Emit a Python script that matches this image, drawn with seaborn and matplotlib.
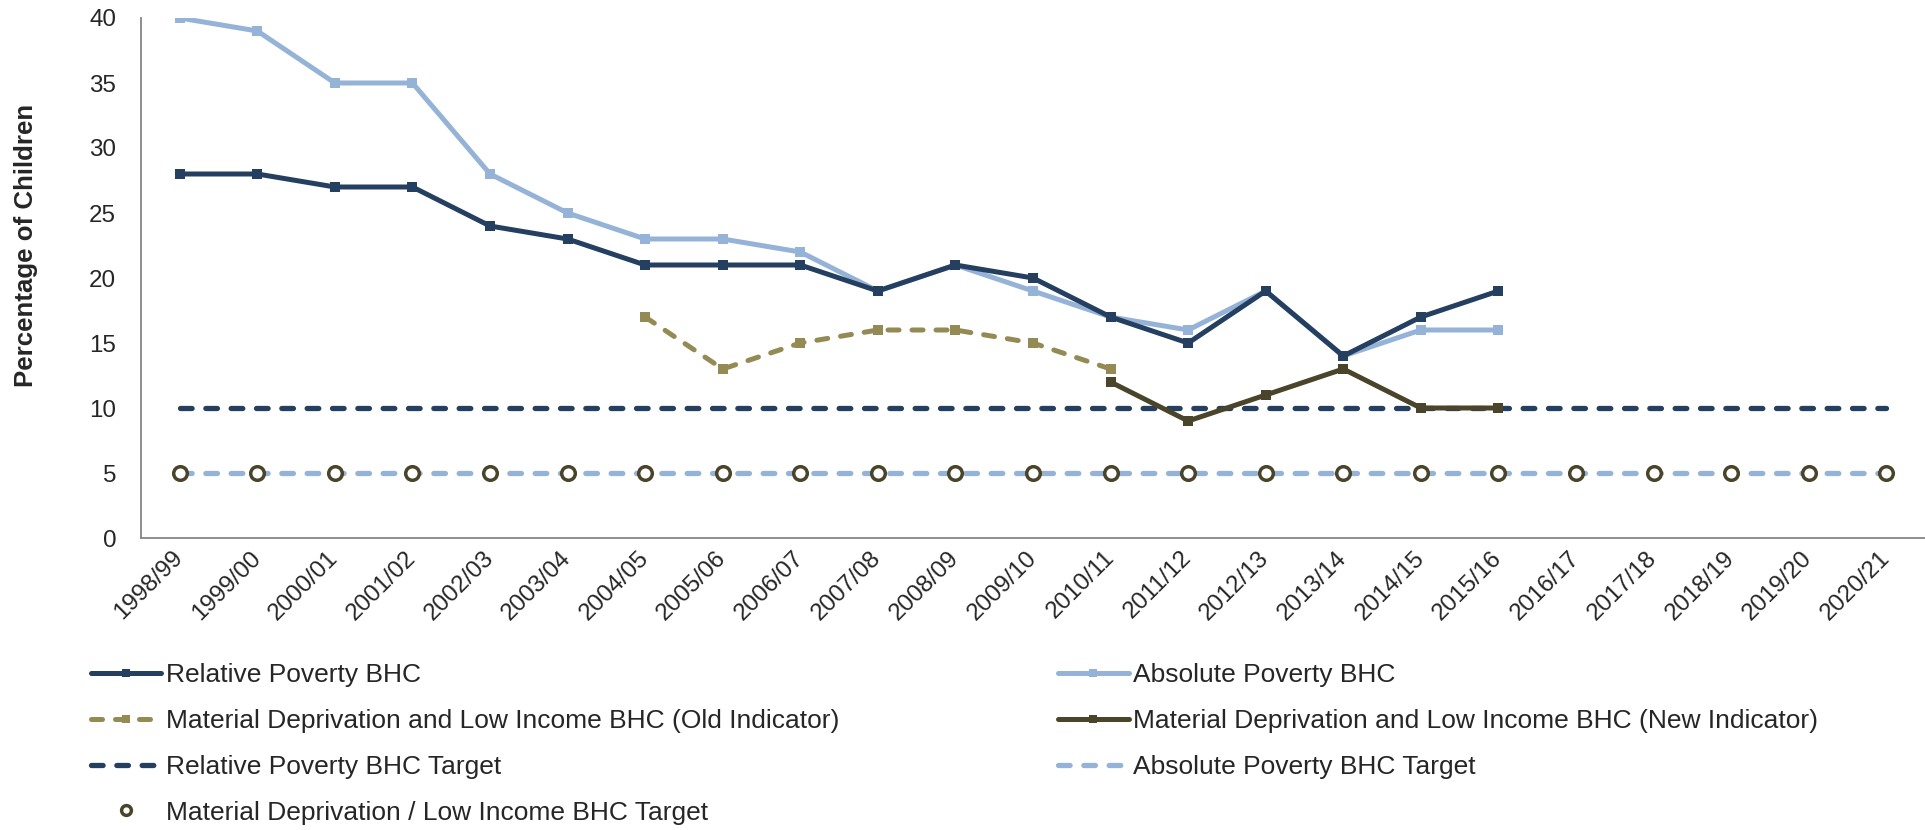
import numpy as np
import pandas as pd
import matplotlib
matplotlib.use("Agg")
import matplotlib.pyplot as plt
import seaborn as sns

categories = ["1998/99", "1999/00", "2000/01", "2001/02", "2002/03", "2003/04",
              "2004/05", "2005/06", "2006/07", "2007/08", "2008/09", "2009/10",
              "2010/11", "2011/12", "2012/13", "2013/14", "2014/15", "2015/16",
              "2016/17", "2017/18", "2018/19", "2019/20", "2020/21"]
nan = np.nan
relative_poverty = [28, 28, 27, 27, 24, 23, 21, 21, 21, 19, 21, 20, 17, 15, 19, 14, 17, 19,
                    nan, nan, nan, nan, nan]
absolute_poverty = [40, 39, 35, 35, 28, 25, 23, 23, 22, 19, 21, 19, 17, 16, 19, 14, 16, 16,
                    nan, nan, nan, nan, nan]
md_old = [nan, nan, nan, nan, nan, nan, 17, 13, 15, 16, 16, 15, 13, nan, nan, nan, nan, nan,
          nan, nan, nan, nan, nan]
md_new = [nan] * 12 + [12, 9, 11, 13, 10, 10] + [nan] * 5
relative_target = [10] * 23
absolute_target = [5] * 23
md_target = [5] * 23

labels = ["Relative Poverty BHC", "Absolute Poverty BHC",
          "Material Deprivation and Low Income BHC (Old Indicator)",
          "Material Deprivation and Low Income BHC (New Indicator)",
          "Relative Poverty BHC Target", "Absolute Poverty BHC Target",
          "Material Deprivation / Low Income BHC Target"]

NAVY = "#243F60"
LIGHT = "#95B3D7"
OLIVE = "#948A54"
DARKOLIVE = "#4A452A"
GRAY = "#868686"
FS_TICK = 17.4
FS_LEG = 19.0
FS_LAB = 18.6

sns.set_theme(style="white")
plt.rcParams["font.family"] = ["Liberation Sans", "DejaVu Sans"]

fig = plt.figure(figsize=(19.25, 8.3), dpi=100)
ax = fig.add_axes([141 / 1925, 1 - 538 / 830, (1925 - 141) / 1925, (538 - 18) / 830])

pos = np.arange(len(categories))

def draw(values, label, color, lw=3.6, marker="s", ms=7.2, dashes=None, ls="-",
         mfc=None, mec=None, mew=0.0):
    df = pd.DataFrame({"x": pos, "y": values}).dropna()
    n_before = len(ax.lines)
    sns.lineplot(data=df, x="x", y="y", ax=ax, color=color, linewidth=lw,
                 marker=marker, markersize=ms, linestyle=ls,
                 markerfacecolor=mfc if mfc is not None else color,
                 markeredgecolor=mec if mec is not None else color,
                 markeredgewidth=mew, label=label, estimator=None, sort=False)
    line = ax.lines[n_before]
    if dashes is not None:
        line.set_dashes(dashes)
        line.set_dash_capstyle("round")
    return line

h_rel_t = draw(relative_target, labels[4], NAVY, lw=3.8, marker=None, dashes=(2.2, 2.6))
h_abs_t = draw(absolute_target, labels[5], LIGHT, lw=3.8, marker=None, dashes=(2.2, 2.6))
h_md_t = draw(md_target, labels[6], DARKOLIVE, lw=0, marker="o", ms=9.8, ls="none",
              mfc="white", mec=DARKOLIVE, mew=2.5)
h_old = draw(md_old, labels[2], OLIVE, lw=3.6, marker="s", ms=7.2, dashes=(2.2, 2.6))
h_new = draw(md_new, labels[3], DARKOLIVE, lw=3.6, marker="s", ms=7.2)
h_abs = draw(absolute_poverty, labels[1], LIGHT, lw=3.6, marker="s", ms=7.2)
h_rel = draw(relative_poverty, labels[0], NAVY, lw=3.6, marker="s", ms=7.2)

if ax.get_legend() is not None:
    ax.get_legend().remove()

ax.set_xlim(-0.5, len(categories) - 0.5)
ax.set_ylim(0, 40)
ax.set_yticks(np.arange(0, 41, 5))
ax.set_xticks(np.arange(len(categories) + 1) - 0.5)
ax.set_xticklabels([])
ax.set_xticks(pos, minor=True)
ax.set_xticklabels(categories, minor=True, rotation=45, ha="right", va="center",
                   rotation_mode="anchor", fontsize=FS_TICK)
ax.tick_params(axis="x", which="minor", length=0, pad=12)
ax.tick_params(axis="x", which="major", length=7, width=1.3, color=GRAY, direction="out")
ax.tick_params(axis="y", length=7, width=1.3, color=GRAY, direction="out",
               labelsize=FS_TICK, pad=11)
for s in ["top", "right"]:
    ax.spines[s].set_visible(False)
for s in ["left", "bottom"]:
    ax.spines[s].set_color(GRAY)
    ax.spines[s].set_linewidth(1.3)
ax.set_xlabel("")
ax.set_ylabel("Percentage of Children", fontsize=FS_LAB, fontweight="bold")
ax.yaxis.set_label_coords(-0.058, 0.563)

leg_kw = dict(frameon=False, fontsize=FS_LEG, handlelength=2.69, handletextpad=0.17,
              labelspacing=0.83, borderaxespad=0, borderpad=0, numpoints=1,
              markerscale=0.72, loc="upper left")
leg1 = fig.legend([h_rel, h_old, h_rel_t, h_md_t], [labels[0], labels[2], labels[4], labels[6]],
                  bbox_to_anchor=(90.5 / 1925, 1 - 663 / 830), **leg_kw)
leg2 = fig.legend([h_abs, h_new, h_abs_t], [labels[1], labels[3], labels[5]],
                  bbox_to_anchor=(1058 / 1925, 1 - 663 / 830), **leg_kw)

fig.savefig("out.png", dpi=100)
